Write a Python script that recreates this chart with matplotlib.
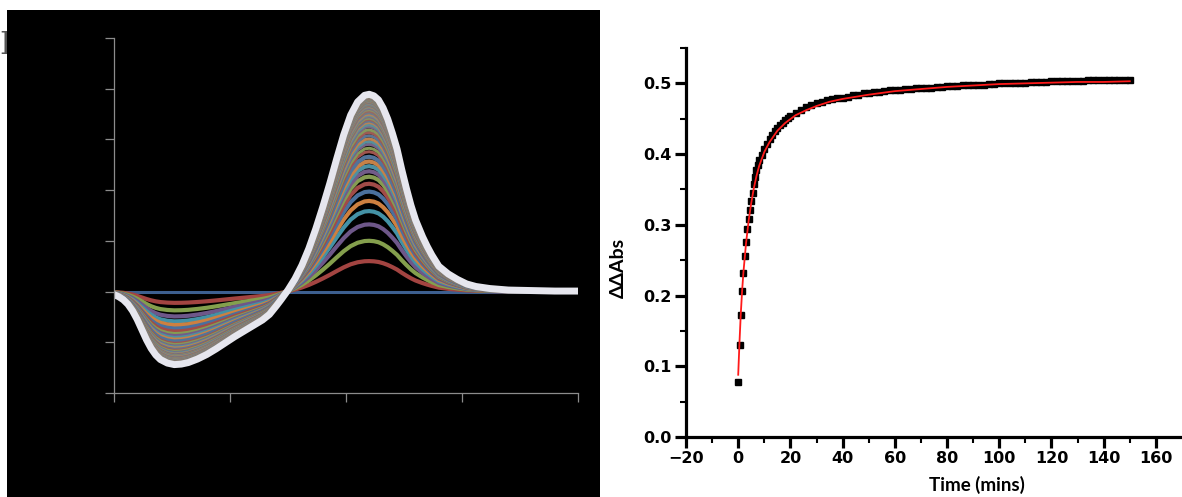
import numpy as np
import matplotlib.pyplot as plt
from matplotlib.patches import Rectangle
from matplotlib.colors import to_rgb

# kinetics (right panel)
time_min = [0, 0.5, 1, 1.5, 2, 2.5, 3, 3.5, 4, 4.5, 5, 5.5, 6, 6.5, 7, 7.5, 8, 9, 10,
            11, 12, 13, 14, 15, 16, 17, 18, 19, 20,
            22, 24, 26, 28, 30, 32, 34, 36, 38, 40, 42, 44, 46, 48, 50, 52, 54, 56, 58, 60,
            62, 64, 66, 68, 70, 72, 74, 76, 78, 80, 82, 84, 86, 88, 90, 92, 94, 96, 98, 100,
            102, 104, 106, 108, 110, 112, 114, 116, 118, 120, 122, 124, 126, 128, 130,
            132, 134, 136, 138, 140, 142, 144, 146, 148, 150]
ddabs = [0.078, 0.130, 0.172, 0.206, 0.232, 0.256, 0.276, 0.294, 0.308, 0.321, 0.333, 0.345,
         0.358, 0.367, 0.377, 0.384, 0.391, 0.399, 0.407,
         0.414, 0.422, 0.427, 0.433, 0.437, 0.441, 0.444, 0.448, 0.451, 0.454,
         0.458, 0.462, 0.466, 0.469, 0.472, 0.474, 0.476, 0.478, 0.479, 0.480, 0.481, 0.483,
         0.484, 0.486, 0.487, 0.488, 0.488, 0.489, 0.490, 0.490,
         0.491, 0.492, 0.492, 0.493, 0.494, 0.494, 0.494, 0.495, 0.495, 0.496, 0.496, 0.496,
         0.497, 0.497, 0.498, 0.498, 0.498, 0.499, 0.499, 0.500,
         0.500, 0.500, 0.501, 0.501, 0.501, 0.502, 0.502, 0.502, 0.502, 0.503, 0.503, 0.503,
         0.503, 0.503, 0.504, 0.504, 0.505, 0.505, 0.505, 0.505, 0.505, 0.505, 0.505, 0.505, 0.505]

fit_t = [0, 0.5, 1, 1.5, 2, 3, 4, 5, 6, 7, 8, 10, 12, 15, 18, 22, 26, 30, 35, 40,
         50, 60, 70, 80, 90, 100, 110, 120, 130, 140, 150]
fit_v = [0.088, 0.135, 0.175, 0.207, 0.233, 0.274, 0.306, 0.331, 0.352, 0.369, 0.383,
         0.403, 0.417, 0.433, 0.444, 0.455, 0.462, 0.468, 0.474, 0.478,
         0.484, 0.489, 0.492, 0.495, 0.497, 0.499, 0.500, 0.501, 0.502, 0.502, 0.503]

# final difference spectrum (left panel, white curve)
wl = [300, 302, 304, 306, 308, 310, 312, 314, 316, 318, 320, 323, 326, 329, 332, 336, 340,
      344, 348, 352, 356, 360, 364, 367, 370, 372, 375, 378, 381, 384, 387, 390, 393, 396,
      399, 402, 405, 408, 410, 412, 414, 416, 418, 420, 422, 424, 426, 428, 430, 433, 435,
      437, 440, 444, 448, 452, 456, 462, 470, 480, 490, 500]
final_spec = [-0.006, -0.010, -0.016, -0.025, -0.038, -0.055, -0.075, -0.095, -0.112, -0.125,
              -0.134, -0.141, -0.144, -0.143, -0.140, -0.133, -0.124, -0.113, -0.101, -0.089,
              -0.078, -0.067, -0.056, -0.045, -0.028, -0.016, 0.003, 0.025, 0.052, 0.085,
              0.124, 0.167, 0.213, 0.262, 0.309, 0.348, 0.374, 0.387, 0.389, 0.386, 0.378,
              0.362, 0.340, 0.312, 0.281, 0.241, 0.204, 0.170, 0.141, 0.108, 0.089, 0.072,
              0.050, 0.035, 0.024, 0.015, 0.010, 0.006, 0.003, 0.002, 0.001, 0.001]

excel_cols = ["#C0504D", "#9BBB59", "#8064A2", "#4BACC6", "#F79646", "#4F81BD"]

fig = plt.figure(figsize=(11.82, 4.97), dpi=100)
fig.patch.set_facecolor("white")

fig.text(-0.001, 1 - 46/497, "B", family="DejaVu Serif", fontsize=22, color="#555555",
         ha="left", va="center", zorder=-2)
fig.patches.append(Rectangle((7/1182, 0), 593/1182, 487/497, transform=fig.transFigure,
                             facecolor="black", edgecolor="none", zorder=-1))

# ---- left panel
ax1 = fig.add_axes([114/1182, 104/497, 464/1182, 355/497])
ax1.set_facecolor("black")
wl_a = np.array(wl)
shape = np.array(final_spec)
amp = np.array(ddabs) / ddabs[-1]
ax1.plot(wl_a, np.zeros_like(shape), color="#3d5f8f", lw=2.2, solid_capstyle="butt")
grey = np.array(to_rgb("#8f877c"))
for i in range(len(amp) - 1):
    c = np.array(to_rgb(excel_cols[i % 6])) * 0.85
    m = min(1.0, i / 30) * 0.55
    c = c * (1 - m) + grey * m
    ax1.plot(wl_a, amp[i] * shape, color=c, lw=3.0 if i < 12 else 2.2,
             solid_capstyle="butt", solid_joinstyle="round")
ax1.plot(wl_a, amp[-1] * shape, color="#e6e6ee", lw=5, solid_capstyle="round",
         solid_joinstyle="round")
ax1.set_xlim(300, 500)
ax1.set_ylim(-0.2, 0.5)
ax1.set_xticks([300, 350, 400, 450, 500])
ax1.set_yticks(np.arange(-0.2, 0.51, 0.1))
ax1.tick_params(colors="#8c8c8c", length=6.5, width=0.9, labelleft=False, labelbottom=False)
for s in ["top", "right"]:
    ax1.spines[s].set_visible(False)
for s in ["left", "bottom"]:
    ax1.spines[s].set_color("#8c8c8c")
    ax1.spines[s].set_linewidth(0.9)

# ---- right panel
ax2 = fig.add_axes([686/1182, 60/497, 496/1182, 389/497])
ax2.plot(time_min, ddabs, "s", color="black", ms=4.8, zorder=2)
ax2.plot(fit_t, fit_v, color="#ff1a1a", lw=1.3, zorder=3)
ax2.set_xlim(-20, 170)
ax2.set_ylim(0, 0.55)
ax2.set_xticks(np.arange(-20, 161, 20))
ax2.set_xticks(np.arange(-10, 170, 20), minor=True)
ax2.set_yticks(np.arange(0, 0.51, 0.1))
ax2.set_yticks(np.arange(0.05, 0.56, 0.1), minor=True)
ax2.set_yticklabels(["0.0", "0.1", "0.2", "0.3", "0.4", "0.5"])
ax2.spines["top"].set_visible(False)
ax2.spines["right"].set_visible(False)
for s in ["left", "bottom"]:
    ax2.spines[s].set_linewidth(2.3)
ax2.tick_params(which="major", length=8, width=2.3, pad=2)
ax2.tick_params(which="minor", length=4, width=1.5)
for lab in ax2.get_xticklabels() + ax2.get_yticklabels():
    lab.set_fontweight("bold")
    lab.set_fontsize(11.5)
ax2.set_ylabel("ΔΔAbs", family=["Lato", "DejaVu Sans"], fontweight="bold", fontsize=14)
ax2.yaxis.set_label_coords(-0.119, 0.434)
ax2.set_xlabel("Time (mins)", family=["Lato", "DejaVu Sans"], fontweight="bold", fontsize=13.5)
ax2.xaxis.set_label_coords(0.587, -0.1)

fig.savefig("out.png", dpi=100)
